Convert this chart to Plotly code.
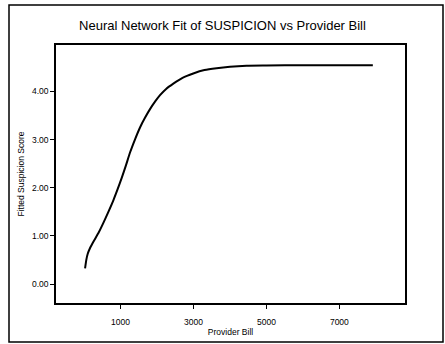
import plotly.graph_objects as go

provider_bill = [27, 60, 100, 164, 255, 400, 529, 660, 803, 920, 1030, 1150, 1260, 1400, 1534,
                 1670, 1808, 1950, 2082, 2250, 2447, 2700, 2995, 3300, 3634, 4000, 4456, 5000,
                 6000, 7000, 7918]
fitted_score = [0.33, 0.50, 0.63, 0.75, 0.88, 1.07, 1.27, 1.49, 1.74, 1.97, 2.20, 2.47, 2.73,
                3.01, 3.25, 3.45, 3.63, 3.79, 3.92, 4.05, 4.16, 4.28, 4.37, 4.44, 4.48, 4.51,
                4.53, 4.535, 4.54, 4.54, 4.54]

x_ticks = [1000, 3000, 5000, 7000]
y_ticks = [0, 1, 2, 3, 4]

fig = go.Figure()
fig.add_trace(go.Scatter(x=provider_bill, y=fitted_score, mode="lines",
                         line=dict(color="black", width=2, shape="spline", smoothing=0.5),
                         showlegend=False))

W, H = 445, 344
L, R, T, B = 56, 40, 45, 41
pw, ph = W - L - R, H - T - B

def px(x):
    return (x - L) / pw

def py(y):
    return (H - B - y) / ph

fig.add_shape(type="rect", xref="paper", yref="paper",
              x0=px(9), x1=px(443), y0=py(342), y1=py(5),
              line=dict(color="black", width=1.5))

font = "Liberation Sans, Arial, sans-serif"
fig.update_layout(
    width=W, height=H,
    margin=dict(l=L, r=R, t=T, b=B),
    paper_bgcolor="white", plot_bgcolor="white",
    title=dict(text="Neural Network Fit of SUSPICION vs Provider Bill",
               x=0.5, xref="container", xanchor="center",
               y=1 - 25 / H, yanchor="middle",
               font=dict(family=font, size=13, color="black")),
    xaxis=dict(range=[-770, 8800], tickvals=x_ticks, ticktext=[str(v) for v in x_ticks],
               ticks="outside", ticklen=4, tickcolor="black", tickwidth=1,
               ticklabelstandoff=6, automargin=False,
               showline=True, linecolor="black", linewidth=1.5, mirror=True,
               showgrid=False, zeroline=False,
               tickfont=dict(family=font, size=8.5, color="black"),
               title=dict(text="Provider Bill", standoff=3,
                          font=dict(family=font, size=8.5, color="black"))),
    yaxis=dict(range=[-0.39, 4.96], tickvals=y_ticks, ticktext=[f"{v:.2f}" for v in y_ticks],
               ticks="outside", ticklen=4, tickcolor="black", tickwidth=1,
               automargin=False,
               showline=True, linecolor="black", linewidth=1.5, mirror=True,
               showgrid=False, zeroline=False,
               tickfont=dict(family=font, size=8.5, color="black"),
               title=dict(text="Fitted Suspicion Score", standoff=6,
                          font=dict(family=font, size=8.5, color="black"))),
)

fig.write_html("out.html")
